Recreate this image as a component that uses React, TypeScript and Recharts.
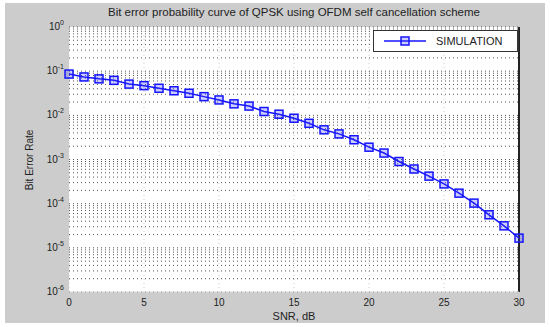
import { CartesianGrid, Legend, Line, LineChart, ReferenceLine, XAxis, YAxis } from 'recharts';

const SNR_DB = [0, 1, 2, 3, 4, 5, 6, 7, 8, 9, 10, 11, 12, 13, 14, 15, 16, 17, 18, 19, 20, 21, 22, 23, 24, 25, 26, 27, 28, 29, 30];
const BER = [
  0.086, 0.074, 0.067, 0.062, 0.051, 0.047, 0.041, 0.036, 0.0316, 0.0265, 0.0223, 0.0182, 0.0162, 0.0122, 0.0106,
  0.0086, 0.0066, 0.0047, 0.0038, 0.0028, 0.0019, 0.0014, 0.0009, 0.00061, 0.00042, 0.00028, 0.000173, 0.000103,
  0.000056, 0.0000315, 0.0000166,
];
const X_TICKS = [0, 5, 10, 15, 20, 25, 30];
const Y_EXPONENTS = [0, -1, -2, -3, -4, -5, -6];
const MINOR_STEPS = [1, 2, 3, 4, 5, 6, 7, 8, 9];

const SERIES_NAME = 'SIMULATION';
const TITLE = 'Bit error probability curve of QPSK using OFDM self cancellation scheme';
const X_LABEL = 'SNR, dB';
const Y_LABEL = 'Bit Error Rate';

const LINE_COLOR = '#1414ff';
const TEXT_COLOR = '#222';
const FONT = '"Liberation Sans", Arial, sans-serif';

const data = SNR_DB.map((snr, i) => ({ snr, ber: BER[i] }));
const yTicks = Y_EXPONENTS.map((e) => Math.pow(10, e));
// matlab "grid minor" style: a dotted line at every k * 10^n
const gridValues = Y_EXPONENTS.slice(1).flatMap((e) => MINOR_STEPS.map((k) => k * Math.pow(10, e)));

function PowerTick({ x, y, payload }: any) {
  const exp = Math.round(Math.log10(payload.value));
  return (
    <text x={x} y={y + 3} textAnchor="end" fontSize={10} fill={TEXT_COLOR} fontFamily={FONT}>
      10
      <tspan dy={-5} fontSize={7}>
        {exp}
      </tspan>
    </text>
  );
}

function SquareDot({ cx, cy }: any) {
  if (cx == null || cy == null) return null;
  return (
    <rect x={cx - 4} y={cy - 4} width={8} height={8} fill="rgba(60,60,255,0.25)" stroke={LINE_COLOR} strokeWidth={1.5} />
  );
}

function LegendBox() {
  return (
    <div
      style={{
        width: 143,
        height: 20,
        background: '#fff',
        border: '1px solid #333',
        borderRightWidth: 2,
        display: 'flex',
        alignItems: 'center',
        fontFamily: FONT,
        fontSize: 11,
        color: TEXT_COLOR,
      }}
    >
      <svg width={50} height={20} style={{ marginLeft: 8 }}>
        <line x1={2} y1={10} x2={44} y2={10} stroke={LINE_COLOR} strokeWidth={1.5} />
        <rect x={19} y={6} width={8} height={8} fill="rgba(60,60,255,0.25)" stroke={LINE_COLOR} strokeWidth={1.5} />
      </svg>
      <span style={{ marginLeft: 4 }}>{SERIES_NAME}</span>
    </div>
  );
}

export default function App() {
  return (
    <div style={{ position: 'absolute', left: 0, top: 0, width: 550, height: 327, background: '#fff' }}>
      <div style={{ position: 'absolute', left: 5, top: 3, width: 540, height: 320, background: '#cccccc' }} />
      <div style={{ position: 'absolute', left: 0, top: 0 }}>
        <LineChart width={550} height={327} data={data} margin={{ top: 27, right: 31, bottom: 0, left: 0 }}>
          <CartesianGrid fill="#fff" horizontal={false} stroke="#cfcfcf" strokeDasharray="1 3" />
          {gridValues.map((v) => (
            <ReferenceLine key={v} y={v} stroke="#555" strokeDasharray="1 3" />
          ))}
          <ReferenceLine y={1} stroke="#555" strokeDasharray="1 3" />
          <ReferenceLine x={30} stroke="#222" strokeWidth={2} />
          <XAxis
            dataKey="snr"
            type="number"
            domain={[0, 30]}
            ticks={X_TICKS}
            height={35}
            tickLine={false}
            axisLine={{ stroke: '#ddd' }}
            tickSize={0}
            tickMargin={7}
            tick={{ fontSize: 10, fill: TEXT_COLOR, fontFamily: FONT }}
            label={{ value: X_LABEL, position: 'insideBottom', offset: 7, fontSize: 11, fill: TEXT_COLOR, fontFamily: FONT }}
          />
          <YAxis
            scale="log"
            domain={[1e-6, 1]}
            ticks={yTicks}
            width={69}
            tickLine={false}
            axisLine={false}
            tickSize={0}
            tickMargin={5}
            tick={<PowerTick />}
            allowDataOverflow
          />
          <Legend
            verticalAlign="middle"
            align="center"
            wrapperStyle={{ position: 'absolute', top: 30, left: 373, width: 146, height: 22 }}
            content={() => <LegendBox />}
          />
          <Line
            type="linear"
            dataKey="ber"
            name={SERIES_NAME}
            stroke={LINE_COLOR}
            strokeWidth={1.5}
            dot={<SquareDot />}
            activeDot={false}
            isAnimationActive={false}
          />
        </LineChart>
      </div>
      <div
        style={{
          position: 'absolute',
          left: 69,
          width: 450,
          top: 6,
          textAlign: 'center',
          fontFamily: FONT,
          fontSize: 11.5,
          color: TEXT_COLOR,
          whiteSpace: 'nowrap',
        }}
      >
        {TITLE}
      </div>
      <div
        style={{
          position: 'absolute',
          left: 29,
          top: 160,
          transform: 'translate(-50%, -50%) rotate(-90deg)',
          fontFamily: FONT,
          fontSize: 10,
          color: TEXT_COLOR,
          whiteSpace: 'nowrap',
        }}
      >
        {Y_LABEL}
      </div>
    </div>
  );
}
